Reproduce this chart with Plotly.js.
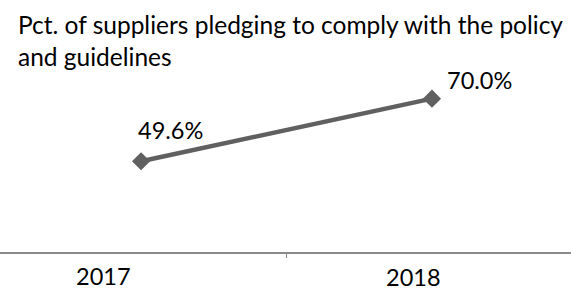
<!DOCTYPE html>
<html>
<head>
<meta charset="utf-8">
<script src="https://cdn.plot.ly/plotly-3.0.1.min.js"></script>
<style>html,body{margin:0;padding:0;background:#fff;}#chart{width:571px;height:292px;}</style>
</head>
<body>
<div id="chart"></div>
<script>
const categories = ["2017", "2018"];
const values = [49.6, 70.0];
const valueLabels = ["49.6%", "70.0%"];
const tickLabels = ["2017", "2018"];
const chartTitle = "Pct. of suppliers pledging to comply with the policy<br>and guidelines";

const FONT = "Lato";
const labelShift = [{x: -5, y: 15}, {x: 13, y: 3}];
const tickShift = [{x: -38, y: -8}, {x: -18, y: -9}];

const annotations = [];
categories.forEach((c, i) => {
  annotations.push({
    x: i, y: values[i], xref: 'x', yref: 'y',
    text: valueLabels[i], showarrow: false,
    xanchor: 'left', yanchor: 'bottom',
    xshift: labelShift[i].x, yshift: labelShift[i].y,
    font: {family: FONT, size: 23.5, color: '#000'}
  });
  annotations.push({
    x: i, y: 0, xref: 'x', yref: 'paper',
    text: tickLabels[i], showarrow: false,
    xanchor: 'center', yanchor: 'top',
    xshift: tickShift[i].x, yshift: tickShift[i].y,
    font: {family: FONT, size: 23.5, color: '#000'}
  });
});

const trace = {
  x: categories, y: values, type: 'scatter', mode: 'lines+markers',
  line: {color: '#606060', width: 4.5},
  marker: {symbol: 'diamond', size: 14, color: '#606060'},
  hoverinfo: 'skip'
};

const layout = {
  width: 571, height: 292,
  margin: {l: 0, r: 0, t: 68, b: 40, pad: 0},
  paper_bgcolor: '#fff', plot_bgcolor: '#fff',
  showlegend: false,
  title: {
    text: chartTitle, xref: 'container', yref: 'container',
    x: 18/571, xanchor: 'left', y: 1 - 34/292, yanchor: 'bottom',
    font: {family: FONT, size: 24.5, color: '#000'}
  },
  xaxis: {
    type: 'category', range: [-0.485, 1.478],
    showgrid: false, zeroline: false,
    showline: true, linecolor: '#8a8a8a', linewidth: 1.5,
    ticks: 'outside', tickson: 'boundaries', ticklen: 4, tickcolor: '#8a8a8a', tickwidth: 1,
    showticklabels: false
  },
  yaxis: {
    range: [20, 80], visible: false, showgrid: false, zeroline: false
  },
  annotations: annotations
};

Plotly.newPlot('chart', [trace], layout, {displayModeBar: false, staticPlot: true});
</script>
</body>
</html>
